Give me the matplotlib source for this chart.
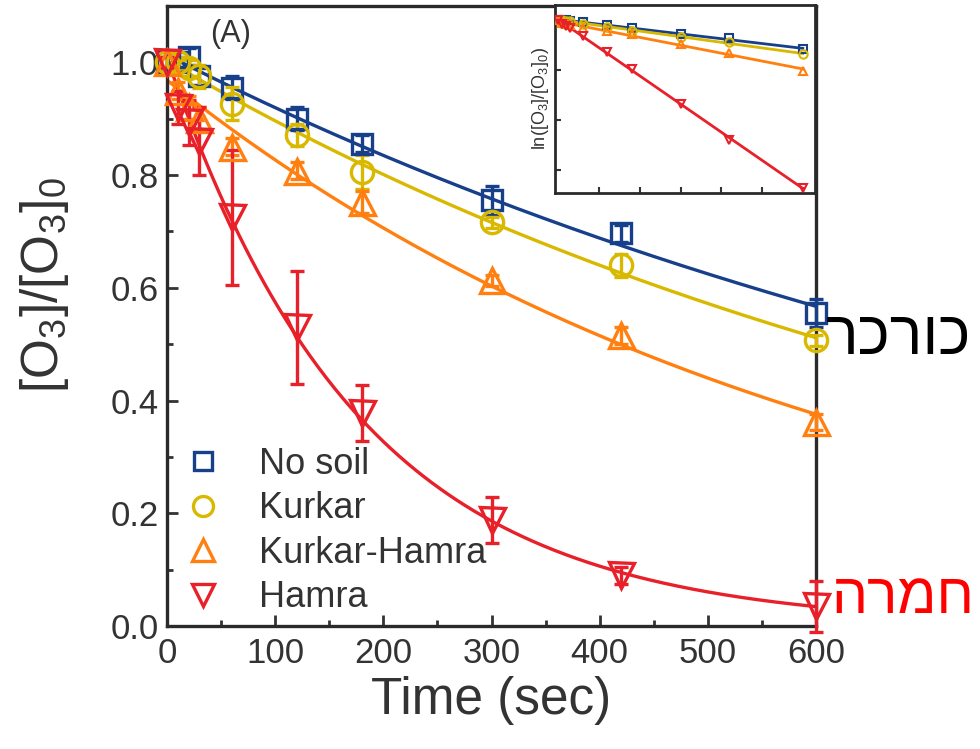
import numpy as np
import matplotlib
matplotlib.use("Agg")
import matplotlib.pyplot as plt
from matplotlib.lines import Line2D

plt.rcParams['font.family'] = ['Liberation Sans', 'DejaVu Sans']
plt.rcParams['mathtext.default'] = 'regular'

# ---- data ----
times = [0, 10, 20, 30, 60, 120, 180, 300, 420, 600]
no_soil = [1.0, 1.0, 1.01, 0.975, 0.955, 0.90, 0.856, 0.755, 0.697, 0.555]
no_soil_err = [0.01, 0.01, 0.015, 0.015, 0.02, 0.02, 0.015, 0.025, 0.015, 0.025]
kurkar = [1.0, 1.0, 0.99, 0.975, 0.927, 0.871, 0.805, 0.716, 0.64, 0.507]
kurkar_err = [0.01, 0.01, 0.015, 0.02, 0.03, 0.02, 0.03, 0.01, 0.02, 0.01]
kurkar_hamra = [1.0, 0.95, 0.92, 0.90, 0.85, 0.808, 0.752, 0.613, 0.516, 0.362]
kurkar_hamra_err = [0.01, 0.015, 0.02, 0.02, 0.015, 0.015, 0.02, 0.01, 0.015, 0.015]
hamra = [1.0, 0.92, 0.894, 0.86, 0.725, 0.53, 0.378, 0.188, 0.09, 0.035]
hamra_err = [0.01, 0.03, 0.04, 0.06, 0.12, 0.10, 0.05, 0.04, 0.015, 0.045]

labels = ["No soil", "Kurkar", "Kurkar-Hamra", "Hamra"]
colors = ["#173f8a", "#d9b800", "#ff8010", "#e8202a"]
markers = ["s", "o", "^", "v"]
msizes = [15, 16, 18, 18]

xticks = [0, 100, 200, 300, 400, 500, 600]
yticks = [0.0, 0.2, 0.4, 0.6, 0.8, 1.0]
ytick_labels = ["0.0", "0.2", "0.4", "0.6", "0.8", "1.0"]

hebrew_kurkar = "כורכר"
hebrew_hamra = "חמרה"

series = [no_soil, kurkar, kurkar_hamra, hamra]
errs = [no_soil_err, kurkar_err, kurkar_hamra_err, hamra_err]

t = np.array(times, dtype=float)
tt = np.linspace(0, 600, 400)

fig = plt.figure(figsize=(9.8, 7.49), dpi=100)
ax = fig.add_axes([167/980, 1-626/749, (816-167)/980, 620/749])

txtc = "#333333"
fits = []
for vals, err, c, m, ms in zip(series, errs, colors, markers, msizes):
    v = np.array(vals)
    slope, icpt = np.polyfit(t, np.log(v), 1)
    fits.append((slope, icpt))
    ax.plot(tt, np.exp(icpt + slope * tt), color=c, lw=2.4, zorder=2)
    ax.errorbar(t, v, yerr=err, fmt=m, color=c, ms=ms, mfc='none', mew=2.4,
                elinewidth=2.4, capsize=5, capthick=2.4, zorder=3, clip_on=False)

ax.set_xlim(0, 600)
ax.set_ylim(0, 1.1)
ax.set_xticks(xticks)
ax.set_xticks(np.arange(50, 600, 100), minor=True)
ax.set_yticks(yticks)
ax.set_yticklabels(ytick_labels)
ax.set_yticks(np.arange(0.1, 1.1, 0.2), minor=True)
ax.tick_params(which='both', direction='in', width=2, colors=txtc, labelsize=25,
               top=False, right=False)
ax.tick_params(which='major', length=8)
ax.tick_params(which='minor', length=4)
ax.tick_params(axis='x', pad=8)
ax.tick_params(axis='y', pad=6)
for s in ax.spines.values():
    s.set_linewidth(2.4)
    s.set_color("#2a2a2a")

ax.set_xlabel("Time (sec)", fontsize=37, color=txtc, labelpad=4)
ax.set_ylabel("[O$_3$]/[O$_3$]$_0$", fontsize=37, color=txtc)
ax.yaxis.set_label_coords(-0.148, 0.55)

ax.text(0.067, 0.955, "(A)", transform=ax.transAxes, fontsize=22, color=txtc,
        ha='left', va='center')

handles = [Line2D([], [], ls='none', marker=m, color=c, mfc='none', ms=ms*0.9, mew=2.4)
           for c, m, ms in zip(colors, markers, msizes)]
leg = ax.legend(handles, labels, loc='lower left', bbox_to_anchor=(0.011, 0.0),
                frameon=False, fontsize=26, handlelength=1.0, handletextpad=1.05,
                labelspacing=0.26, borderaxespad=0.0, borderpad=0.3)
for txt in leg.get_texts():
    txt.set_color(txtc)

# Hebrew annotations (matplotlib has no bidi, so reverse for right-to-left display)
fig.text(898/980, 1-338/749, hebrew_kurkar[::-1], fontsize=44, color='black',
         ha='center', va='center')
fig.text(903/980, 1-598/749, hebrew_hamra[::-1], fontsize=41, color='#ff0000',
         ha='center', va='center')

# ---- inset: ln([O3]/[O3]0) vs time ----
ins = fig.add_axes([555/980, 1-193/749, 260/980, 188/749])
for vals, c, m, (slope, icpt) in zip(series, colors, markers, fits):
    lv = np.log(np.array(vals))
    ins.plot(tt, icpt + slope * tt, color=c, lw=2, zorder=2)
    ins.plot(t, lv, ls='none', marker=m, color=c, ms=6, mfc='none', mew=1.5, zorder=3)
ins.set_xlim(-8, 630)
ins.set_ylim(-3.46, 0.3)
ins.set_xticks([100, 200, 300, 400, 500, 600])
ins.set_yticks([0, -1, -2, -3])
ins.tick_params(which='both', direction='in', length=4, width=1.5, colors=txtc,
                labelbottom=False, labelleft=False, top=False, right=False)
for s in ins.spines.values():
    s.set_linewidth(2)
    s.set_color("#2a2a2a")
ins.set_ylabel("ln([O$_3$]/[O$_3$]$_0$)", fontsize=13, color=txtc, labelpad=3)

fig.savefig("out.png", dpi=100)
